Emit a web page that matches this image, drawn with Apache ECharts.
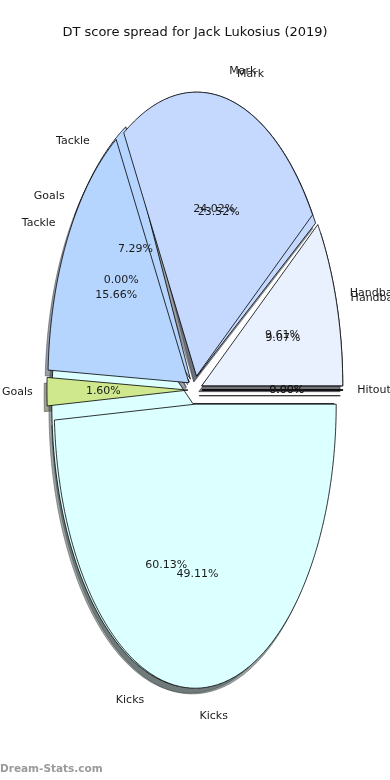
<!DOCTYPE html>
<html><head><meta charset="utf-8">
<script src="https://cdn.jsdelivr.net/npm/echarts@6/dist/echarts.min.js"></script>
<style>html,body{margin:0;padding:0;background:#fff}#c{width:390px;height:780px}</style>
</head><body><div id="c"></div>
<script>
const chartTitle = 'DT score spread for Jack Lukosius (2019)';
const watermark = 'Dream-Stats.com';
const categories = ['Handball', 'Mark', 'Tackle', 'Goals', 'Kicks', 'Hitout'];
const topPieValues = [9.61, 24.02, 15.66, 1.60, 49.11, 0.00];
const underPieValues = [9.065, 23.515, 7.285, 0.00, 60.13, 0.00];
const sliceColors = ['#e9f1ff', '#c5d9ff', '#b5d5ff', '#cfe88e', '#dcffff', '#808080'];

const EXPLODE = 0.05, LABEL_D = 1.1, PCT_D = 0.6, SH_DX = -0.02, SH_DY = -0.02;
const FONT = '"DejaVu Sans", sans-serif';

function buildWedges(vals, layer) {
  const total = vals.reduce((a, b) => a + b, 0);
  let cum = 0;
  return vals.map((v, i) => {
    const t1 = cum / total * 360; cum += v; const t2 = cum / total * 360;
    return { i, layer, name: categories[i], value: v, pct: v / total * 100, t1, t2 };
  });
}
const underW = buildWedges(underPieValues, 0);
const topW = buildWedges(topPieValues, 1);
const allW = underW.concat(topW);

function hexRgb(h) { return [1, 3, 5].map(k => parseInt(h.substr(k, 2), 16)); }
function shadeColor(h) { const c = hexRgb(h).map(x => Math.round(x * 0.3)); return 'rgba(' + c.join(',') + ',0.5)'; }

function wedgePts(w, api, dx, dy) {
  const mid = (w.t1 + w.t2) / 2 * Math.PI / 180;
  const cx = EXPLODE * Math.cos(mid) + dx, cy = EXPLODE * Math.sin(mid) + dy;
  const pts = [api.coord([cx, cy])];
  const n = Math.max(1, Math.ceil((w.t2 - w.t1) / 0.5));
  for (let k = 0; k <= n; k++) {
    const a = (w.t1 + (w.t2 - w.t1) * k / n) * Math.PI / 180;
    pts.push(api.coord([cx + Math.cos(a), cy + Math.sin(a)]));
  }
  return pts;
}

function shadowItem(params, api) {
  const w = allW[params.dataIndex];
  const col = shadeColor(sliceColors[w.i]);
  return { type: 'polygon', shape: { points: wedgePts(w, api, SH_DX, SH_DY) },
    style: { fill: col, stroke: col, lineWidth: 1 } };
}
function wedgeItemFor(list) {
  return function (params, api) {
    const w = list[params.dataIndex];
    return { type: 'polygon', shape: { points: wedgePts(w, api, 0, 0) },
      style: { fill: sliceColors[w.i], stroke: '#000', lineWidth: 0.8 } };
  };
}
function midOf(w) { return (w.t1 + w.t2) / 2 * Math.PI / 180; }
function labelItem(params, api) {
  const w = allW[params.dataIndex];
  const mid = midOf(w);
  const cx = EXPLODE * Math.cos(mid), cy = EXPLODE * Math.sin(mid);
  const lx = cx + LABEL_D * Math.cos(mid), ly = cy + LABEL_D * Math.sin(mid);
  const px = cx + PCT_D * Math.cos(mid), py = cy + PCT_D * Math.sin(mid);
  const lp = api.coord([lx, ly]), pp = api.coord([px, py]);
  // a name label lying exactly on top of the same label from the other pie is drawn once
  let dup = false;
  if (w.layer === 0) { const o = topW[w.i]; dup = Math.abs(midOf(o) - mid) < 1e-6; }
  const kids = [
    { type: 'text', x: pp[0], y: pp[1], style: { text: w.pct.toFixed(2) + '%', font: '11px ' + FONT, fill: '#1a1a1a',
      align: 'center', verticalAlign: 'middle' } }
  ];
  if (!dup) kids.push({ type: 'text', x: lp[0], y: lp[1], style: { text: w.name, font: '11px ' + FONT, fill: '#1a1a1a',
      align: lx > 0 ? 'left' : 'right', verticalAlign: 'middle' } });
  return { type: 'group', children: kids };
}

const chart = echarts.init(document.getElementById('c'), null, { renderer: 'canvas' });
chart.setOption({
  animation: false,
  backgroundColor: '#fff',
  title: { text: chartTitle, left: 'center', top: 21, textStyle: { fontFamily: FONT, fontSize: 13, fontWeight: 'normal', color: '#111' } },
  graphic: [{ type: 'text', left: 0, top: 764, style: { text: watermark, font: 'bold 10.5px ' + FONT, fill: '#9a9a9a' } }],
  grid: { left: 54, top: 106, width: 282, height: 568 },
  xAxis: { type: 'value', min: -1, max: 1, show: false },
  yAxis: { type: 'value', min: -1, max: 1, show: false },
  series: [
    { type: 'custom', z: 1, clip: false, renderItem: shadowItem, data: allW.map(w => [w.value]) },
    { type: 'custom', z: 2, clip: false, renderItem: wedgeItemFor(underW), data: underW.map(w => [w.value]) },
    { type: 'custom', z: 3, clip: false, renderItem: wedgeItemFor(topW), data: topW.map(w => [w.value]) },
    { type: 'custom', z: 5, clip: false, renderItem: labelItem, data: allW.map(w => [w.value]) }
  ]
});
</script></body></html>
